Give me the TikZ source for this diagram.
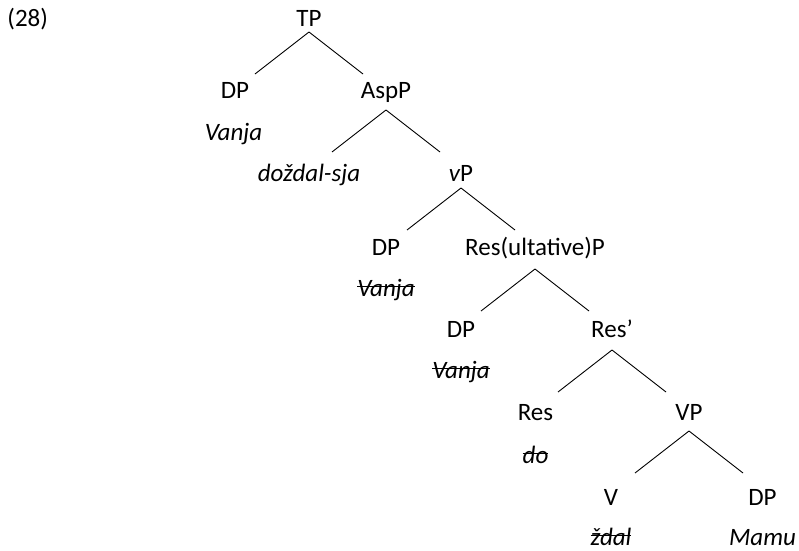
\documentclass[tikz,border=0pt]{standalone}
\usepackage{fontspec}
\setmainfont{Carlito}
\usetikzlibrary{positioning}

\newsavebox\strikebox
\newcommand{\strike}[1]{\sbox\strikebox{#1}\rlap{\rule[.75ex]{\wd\strikebox}{.9pt}}\usebox\strikebox}
% branch below a node: #1 = drop of the apex under the baseline
\newcommand{\branch}[2][10]{
    \path (#2.base) ++(0,-#1) coordinate (#2-a);
    \draw (#2-a) -- ++(-54,-42) coordinate (#2-l);
    \draw (#2-a) -- ++(54,-42) coordinate (#2-r);
}

\begin{document}
\begin{tikzpicture}[
    x=1pt, y=1pt,
    line width=.9pt,
    cat/.style={
        anchor=base, inner sep=0pt, font=\fontsize{25}{30}\selectfont
    },
    word/.style={
        cat, font=\fontsize{25}{30}\selectfont\itshape
    }
]
    \useasboundingbox (0,0) rectangle (799,-550);

    \node[cat, anchor=base west] (ex) at (7,-26) {(28)};

    \node[cat] (tp) at (309,-26) {TP};
    \node[cat] (dp1) at (235,-98) {DP};
    \node[cat] (asp) at (386,-98) {AspP};
    \node[word] (v1) at (233.5,-140) {Vanja};
    \node[word] (asp0) at (309,-181) {doždal-sja};
    \node[cat] (vp) at (461,-181) {{\itshape v}P};
    \node[cat] (dp2) at (386,-255) {DP};
    \node[cat] (res) at (535,-255) {Res(ultative)P};
    \node[word, below=41pt of dp2.base, anchor=base] (v2) {\strike{Vanja}};
    \node[cat] (dp3) at (461,-337) {DP};
    \node[cat] (resb) at (612,-337) {Res’};
    \node[word, below=41pt of dp3.base, anchor=base] (v3) {\strike{Vanja}};
    \node[cat] (res0) at (535.5,-420) {Res};
    \node[cat] (bigvp) at (689,-420) {VP};
    \node[word, below=43pt of res0.base, anchor=base] (do) {\strike{do}};
    \node[cat] (v0) at (611,-505) {V};
    \node[cat] (dp4) at (762.5,-505) {DP};
    \node[word, below=40pt of v0.base, anchor=base] (zdal) {\strike{ždal}};
    \node[word, below=40pt of dp4.base, anchor=base] (mamu) {Mamu};

    \branch[6]{tp}
    \branch[12]{asp}
    \branch[7]{vp}
    \branch[14]{res}
    \branch[13]{resb}
    \branch[11]{bigvp}

\end{tikzpicture}
\end{document}
